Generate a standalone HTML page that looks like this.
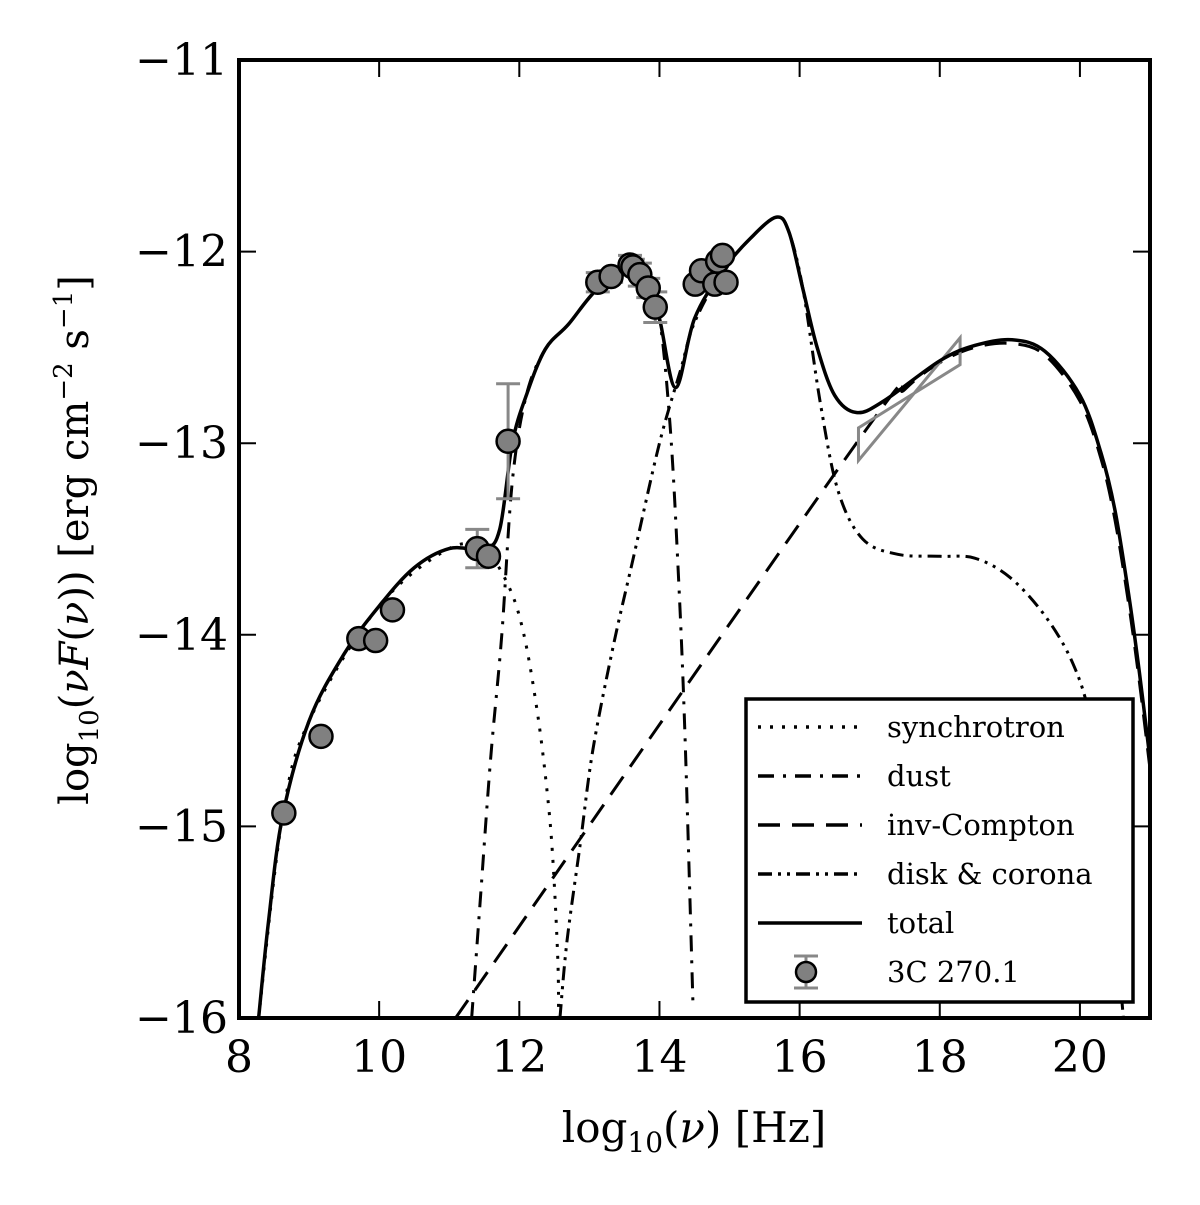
<!DOCTYPE html>
<html><head><meta charset="utf-8"><style>
html,body{margin:0;padding:0;background:#fff;}
svg text{font-family:"DejaVu Serif","Liberation Serif",serif;}
</style></head><body>
<svg width="1200" height="1200" viewBox="0 0 1200 1200" xmlns="http://www.w3.org/2000/svg">
<g id="plot"></g>
<g id="axes"></g>
</svg>
<script>
const xTicks=[8,10,12,14,16,18,20];
const yTicks=[-11,-12,-13,-14,-15,-16];
const yTickLabels=["\u221211","\u221212","\u221213","\u221214","\u221215","\u221216"];
const obsX=[8.64,9.17,9.71,9.95,10.19,11.40,11.56,11.84,13.12,13.31,13.58,13.62,13.72,13.84,13.94,14.51,14.60,14.79,14.83,14.90,14.95];
const obsY=[-14.93,-14.53,-14.02,-14.03,-13.87,-13.55,-13.59,-12.99,-12.16,-12.13,-12.07,-12.08,-12.12,-12.19,-12.29,-12.17,-12.1,-12.17,-12.05,-12.02,-12.16];
const obsErr=[0,0,0,0,0,0.1,0,0.3,0.05,0.03,0.05,0.04,0.06,0.05,0.08,0,0,0,0,0,0];
const totalX=[8.28,8.42,8.62,9.0,9.5,10,10.5,11,11.5,11.72,11.9,12.1,12.37,12.7,13.1,13.6,13.8,14.0,14.23,14.5,14.9,15.3,15.67,15.85,16.05,16.25,16.5,16.81,17.2,18,18.5,19.03,19.5,20,20.3,20.5,20.7,20.85,21.0];
const totalY=[-16,-15.5,-14.95,-14.45,-14.1,-13.85,-13.65,-13.55,-13.55,-13.45,-13.0,-12.75,-12.51,-12.38,-12.2,-12.07,-12.13,-12.35,-12.71,-12.35,-12.1,-11.93,-11.82,-11.9,-12.2,-12.5,-12.75,-12.84,-12.78,-12.57,-12.49,-12.46,-12.52,-12.75,-13.05,-13.35,-13.8,-14.2,-14.65];
const synchX=[8.28,8.62,9,10,11,11.5,11.84,12.06,12.26,12.4,12.48,12.55,12.56];
const synchY=[-16,-14.95,-14.45,-13.85,-13.55,-13.56,-13.74,-13.99,-14.41,-14.83,-15.18,-15.7,-16];
const dustX=[11.32,11.44,11.59,11.75,11.9,12.1,12.37,12.7,13.1,13.6,13.8,14.0,14.15,14.26,14.36,14.48];
const dustY=[-16,-15.4,-14.65,-14.0,-13.2,-12.75,-12.51,-12.38,-12.2,-12.07,-12.13,-12.35,-12.9,-13.61,-14.48,-15.95];
const icX=[11.09,16.81,17.5,18,18.5,19.03,19.5,20,20.3,20.5,20.7,20.85,21.0];
const icY=[-16,-13.0,-12.72,-12.58,-12.5,-12.48,-12.54,-12.78,-13.08,-13.4,-13.85,-14.25,-14.7];
const diskX=[12.58,12.68,12.87,13.05,13.34,13.62,14.0,14.3,14.5,14.9,15.3,15.67,15.85,16.05,16.3,16.55,16.9,17.4,18.0,18.5,19.0,19.5,19.9,20.15,20.35,20.5,20.62];
const diskY=[-16,-15.6,-15.09,-14.6,-14.06,-13.61,-13.0,-12.62,-12.37,-12.1,-11.93,-11.82,-11.9,-12.2,-12.8,-13.25,-13.5,-13.58,-13.59,-13.6,-13.7,-13.9,-14.15,-14.45,-15.0,-15.5,-16];
const bowX=[16.84,18.29,18.29,16.84];
const bowY=[-12.92,-12.59,-12.45,-13.09];

const L=239,R=1150,T=60,B=1018,X0=8,X1=21.0,Y0=-16,Y1=-11;
const sx=v=>L+(v-X0)/(X1-X0)*(R-L);
const sy=v=>B-(v-Y0)/(Y1-Y0)*(B-T);
const NS="http://www.w3.org/2000/svg";
function mk(tag,parent,attrs){const e=document.createElementNS(NS,tag);for(const k in attrs)e.setAttribute(k,attrs[k]);parent.appendChild(e);return e;}
function smooth(xs,ys){const p=xs.map((x,i)=>[sx(x),sy(ys[i])]);let d="M"+p[0][0]+","+p[0][1];
for(let i=0;i<p.length-1;i++){const p0=p[i-1]||p[i],p1=p[i],p2=p[i+1],p3=p[i+2]||p2;
d+=" C"+(p1[0]+(p2[0]-p0[0])/6)+","+(p1[1]+(p2[1]-p0[1])/6)+" "+(p2[0]-(p3[0]-p1[0])/6)+","+(p2[1]-(p3[1]-p1[1])/6)+" "+p2[0]+","+p2[1];}return d;}
const plot=document.getElementById('plot'),axes=document.getElementById('axes');
mk('clipPath',plot,{id:'clip'}).appendChild(document.createElementNS(NS,'rect'));
const cr=plot.querySelector('#clip rect');cr.setAttribute('x',L);cr.setAttribute('y',T);cr.setAttribute('width',R-L);cr.setAttribute('height',B-T);
const g=mk('g',plot,{'clip-path':'url(#clip)'});
const styles=[[synchX,synchY,'3,9','synchrotron-curve'],[dustX,dustY,'16,9,3,9','dust-curve'],[icX,icY,'22,12','inv-compton-curve'],[diskX,diskY,'14,6,3,6,3,6','disk-corona-curve']];
styles.forEach(s=>{const e=mk('path',g,{d:smooth(s[0],s[1]),fill:'none',stroke:'#000','stroke-width':3,'stroke-dasharray':s[2]});

});
const bw=mk('polygon',g,{points:bowX.map((x,i)=>sx(x)+","+sy(bowY[i])).join(" "),fill:'none',stroke:'#888','stroke-width':3});


const tot=mk('path',g,{d:smooth(totalX,totalY),fill:'none',stroke:'#000','stroke-width':3.5});


obsX.forEach((x,i)=>{if(obsErr[i]>0){const cx=sx(x),y1=sy(obsY[i]+obsErr[i]),y2=sy(obsY[i]-obsErr[i]);
const eb=mk('path',g,{d:`M${cx},${y1}V${y2}M${cx-12},${y1}H${cx+12}M${cx-12},${y2}H${cx+12}`,stroke:'#888','stroke-width':3,fill:'none'});

}});
obsX.forEach((x,i)=>{const c=mk('circle',g,{cx:sx(x),cy:sy(obsY[i]),r:11.5,fill:'#808080',stroke:'#000','stroke-width':2.5});

});
const fr=mk('rect',axes,{x:L,y:T,width:R-L,height:B-T,fill:'none',stroke:'#000','stroke-width':4});


xTicks.forEach(v=>{const x=sx(v);mk('path',axes,{d:`M${x},${B}v-17M${x},${T}v17`,stroke:'#000','stroke-width':2});
const t=mk('text',axes,{x:x,y:1072,'font-size':44,'text-anchor':'middle'});t.textContent=v;

});
yTicks.forEach((v,i)=>{const y=sy(v);mk('path',axes,{d:`M${L},${y}h17M${R},${y}h-17`,stroke:'#000','stroke-width':2});
const t=mk('text',axes,{x:228,y:y+15,'font-size':44,'text-anchor':'end'});t.textContent=yTickLabels[i];

});
const xt=mk('text',axes,{x:694,y:1142,'font-size':42,'text-anchor':'middle'});
xt.innerHTML='log<tspan font-size="28" dy="10">10</tspan><tspan dy="-10">(</tspan><tspan font-style="italic">ν</tspan>) [Hz]';


const yt=mk('text',axes,{x:0,y:0,'font-size':40,'text-anchor':'middle',transform:'translate(88,540) rotate(-90)'});
yt.innerHTML='log<tspan font-size="26" dy="10">10</tspan><tspan dy="-10">(</tspan><tspan font-style="italic">νF</tspan>(<tspan font-style="italic">ν</tspan>)) [erg cm<tspan font-size="26" dy="-16">−2</tspan><tspan dy="16"> s</tspan><tspan font-size="26" dy="-16">−1</tspan><tspan dy="16">]</tspan>';


const lg=mk('g',axes,{});


mk('rect',lg,{x:746,y:699,width:387,height:303,fill:'#fff',stroke:'#000','stroke-width':3.5});
const entries=[['synchrotron','3,9'],['dust','16,9,3,9'],['inv-Compton','22,12'],['disk & corona','14,6,3,6,3,6'],['total',''],['3C 270.1',null]];
entries.forEach((en,i)=>{const y=727+i*49;const it=mk('g',lg,{});


if(en[1]===null){mk('path',it,{d:`M${806},${y-16}v32M794,${y-16}h24M794,${y+16}h24`,stroke:'#888','stroke-width':3});
mk('circle',it,{cx:806,cy:y,r:10,fill:'#808080',stroke:'#000','stroke-width':2.5});}
else{const a={d:`M758,${y}h104`,stroke:'#000','stroke-width':3.5};if(en[1])a['stroke-dasharray']=en[1];mk('path',it,a);}
const t=mk('text',it,{x:887,y:y+10,'font-size':29});t.textContent=en[0];});
</script>
</body></html>
